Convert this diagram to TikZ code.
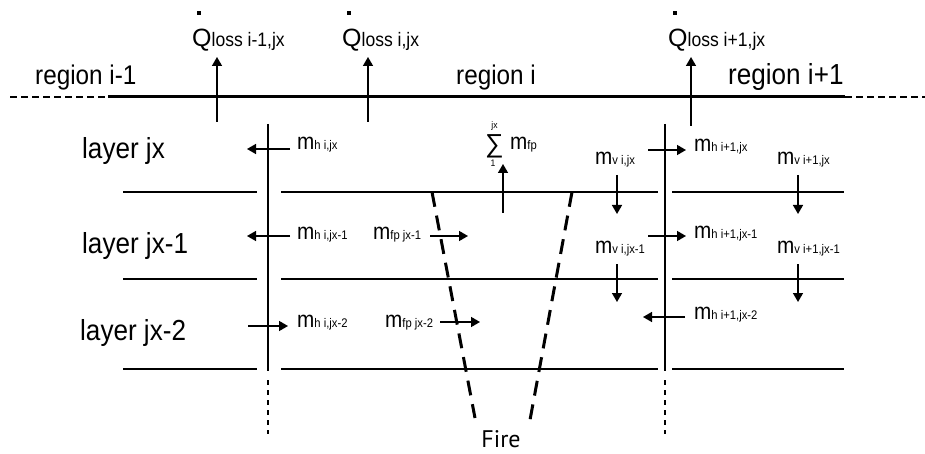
\documentclass[tikz,border=0pt]{standalone}
\usepackage{fontspec}
\setmainfont{Liberation Sans}[FakeStretch=0.9]
\newfontfamily\plainsans{Liberation Sans}
\newfontfamily\firefont{PT Sans}
\usetikzlibrary{arrows.meta}
\newcommand\mlab[1]{{\fontsize{23}{23}\selectfont m}{\fontsize{12.5}{13}\selectfont #1}}
\newcommand\qlab[1]{\rlap{\hspace{5pt}\raisebox{32pt}{\rule{3.5pt}{3.5pt}}}{\plainsans\fontsize{25}{25}\selectfont Q}{\fontsize{19.5}{20}\selectfont #1}}
\begin{document}
\begin{tikzpicture}[x=1pt,y=-1pt,
  lbl/.style={anchor=base west,inner sep=0pt},
  big/.style={lbl,font=\fontsize{27}{28}\selectfont},
  flow/.style={line width=1.5pt,-{Triangle[length=9pt,width=10pt]}},
  wall/.style={line width=2.6pt},
  topline/.style={line width=3pt},
  thindash/.style={line width=1.8pt,dash pattern=on 7pt off 4pt},
  dotwall/.style={line width=2.4pt,dash pattern=on 5pt off 5pt},
  firedash/.style={line width=3pt,dash pattern=on 15pt off 9pt}]
\useasboundingbox (0,0) rectangle (925,454);

% top boundary
\coordinate (t0) at (10,97);
\coordinate (t1) at (108,97);
\coordinate (t2) at (845,97);
\coordinate (t3) at (925,97);
\draw[thindash] (t0) -- (t1);
\draw[topline] (t1) -- (t2);
\draw[thindash] (t2) -- (t3);

% region labels
\node[big] (r1) at (35,85) {region i-1};
\node[big] (r2) at (456,85) {region i};
\node[big,font=\fontsize{29}{30}\selectfont] (r3) at (728,85) {region i+1};

% heat losses
\node[lbl] (q1) at (192,47) {\qlab{loss i-1,jx}};
\node[lbl] (q2) at (342,47) {\qlab{loss i,jx}};
\node[lbl] (q3) at (668,47) {\qlab{loss i+1,jx}};
\coordinate (q1s) at (217,122); \coordinate (q1e) at (217,57);
\coordinate (q2s) at (368,122); \coordinate (q2e) at (368,57);
\coordinate (q3s) at (691,126); \coordinate (q3e) at (691,57);
\draw[flow] (q1s) -- (q1e);
\draw[flow] (q2s) -- (q2e);
\draw[flow] (q3s) -- (q3e);

% walls
\coordinate (w1a) at (268,124); \coordinate (w1b) at (268,371);
\coordinate (w1c) at (268,380); \coordinate (w1d) at (268,434);
\coordinate (w2a) at (665,124); \coordinate (w2b) at (665,371);
\coordinate (w2c) at (665,380); \coordinate (w2d) at (665,434);
\draw[wall] (w1a) -- (w1b);
\draw[dotwall] (w1c) -- (w1d);
\draw[wall] (w2a) -- (w2b);
\draw[dotwall] (w2c) -- (w2d);

% layer boundaries
\foreach \yy/\nm in {192/A,279/B,369/C}{
  \coordinate (\nm1) at (123,\yy); \coordinate (\nm2) at (257,\yy);
  \coordinate (\nm3) at (281,\yy); \coordinate (\nm4) at (658,\yy);
  \coordinate (\nm5) at (672,\yy); \coordinate (\nm6) at (844,\yy);
  \draw[wall] (\nm1) -- (\nm2);
  \draw[wall] (\nm3) -- (\nm4);
  \draw[wall] (\nm5) -- (\nm6);
}

% layer labels
\node[big,font=\fontsize{29}{30}\selectfont] (l1) at (82,159) {layer jx};
\node[big,font=\fontsize{29}{30}\selectfont] (l2) at (82,253) {layer jx-1};
\node[big,font=\fontsize{29}{30}\selectfont] (l3) at (80,340) {layer jx-2};

% fire plume
\coordinate (f1) at (432,192); \coordinate (f2) at (475,418);
\coordinate (f3) at (572,192); \coordinate (f4) at (530,420);
\draw[firedash] (f1) -- (f2);
\draw[firedash] (f3) -- (f4);
\node[anchor=base,inner sep=0pt,font=\firefont\fontsize{24}{24}\selectfont] (fire) at (501,447) {Fire};

% horizontal flows at wall i
\node[lbl] (mh1) at (297,150) {\mlab{h i,jx}};
\node[lbl] (mh2) at (297,240) {\mlab{h i,jx-1}};
\node[lbl] (mh3) at (297,327) {\mlab{h i,jx-2}};
\coordinate (h1s) at (290,149); \coordinate (h1e) at (247,149);
\coordinate (h2s) at (290,236); \coordinate (h2e) at (247,236);
\coordinate (h3s) at (248,326); \coordinate (h3e) at (288,326);
\draw[flow] (h1s) -- (h1e);
\draw[flow] (h2s) -- (h2e);
\draw[flow] (h3s) -- (h3e);

% fire plume entrainment
\node[lbl] (fp1) at (373,240) {\mlab{fp jx-1}};
\node[lbl] (fp2) at (385,327) {\mlab{fp jx-2}};
\coordinate (p1s) at (430,236); \coordinate (p1e) at (468,236);
\coordinate (p2s) at (440,322); \coordinate (p2e) at (480,322);
\draw[flow] (p1s) -- (p1e);
\draw[flow] (p2s) -- (p2e);

% plume sum
\node[inner sep=0pt,font=\plainsans\fontsize{26}{26}\selectfont] (sig) at (494.5,146) {∑};
\node[inner sep=0pt,font=\fontsize{9.5}{10}\selectfont] (sigt) at (494.5,126) {jx};
\node[inner sep=0pt,font=\fontsize{9.5}{10}\selectfont] (sigb) at (493,163) {1};
\node[lbl] (mfp) at (510,150) {\mlab{fp}};
\coordinate (ss) at (503,213); \coordinate (se) at (503,164);
\draw[flow] (ss) -- (se);

% vertical flows
\node[lbl] (mv1) at (595,165) {\mlab{v i,jx}};
\node[lbl] (mv2) at (595,253) {\mlab{v i,jx-1}};
\node[lbl] (mv3) at (777,165) {\mlab{v i+1,jx}};
\node[lbl] (mv4) at (777,253) {\mlab{v i+1,jx-1}};
\coordinate (v1s) at (617,175); \coordinate (v1e) at (617,214);
\coordinate (v2s) at (617,264); \coordinate (v2e) at (617,302);
\coordinate (v3s) at (798,175); \coordinate (v3e) at (798,214);
\coordinate (v4s) at (798,264); \coordinate (v4e) at (798,302);
\draw[flow] (v1s) -- (v1e);
\draw[flow] (v2s) -- (v2e);
\draw[flow] (v3s) -- (v3e);
\draw[flow] (v4s) -- (v4e);

% horizontal flows at wall i+1
\node[lbl] (mk1) at (694,152) {\mlab{h i+1,jx}};
\node[lbl] (mk2) at (694,238) {\mlab{h i+1,jx-1}};
\node[lbl] (mk3) at (694,319) {\mlab{h i+1,jx-2}};
\coordinate (k1s) at (648,150); \coordinate (k1e) at (686,150);
\coordinate (k2s) at (648,236); \coordinate (k2e) at (686,236);
\coordinate (k3s) at (685,317); \coordinate (k3e) at (643,317);
\draw[flow] (k1s) -- (k1e);
\draw[flow] (k2s) -- (k2e);
\draw[flow] (k3s) -- (k3e);
\end{tikzpicture}
\end{document}
